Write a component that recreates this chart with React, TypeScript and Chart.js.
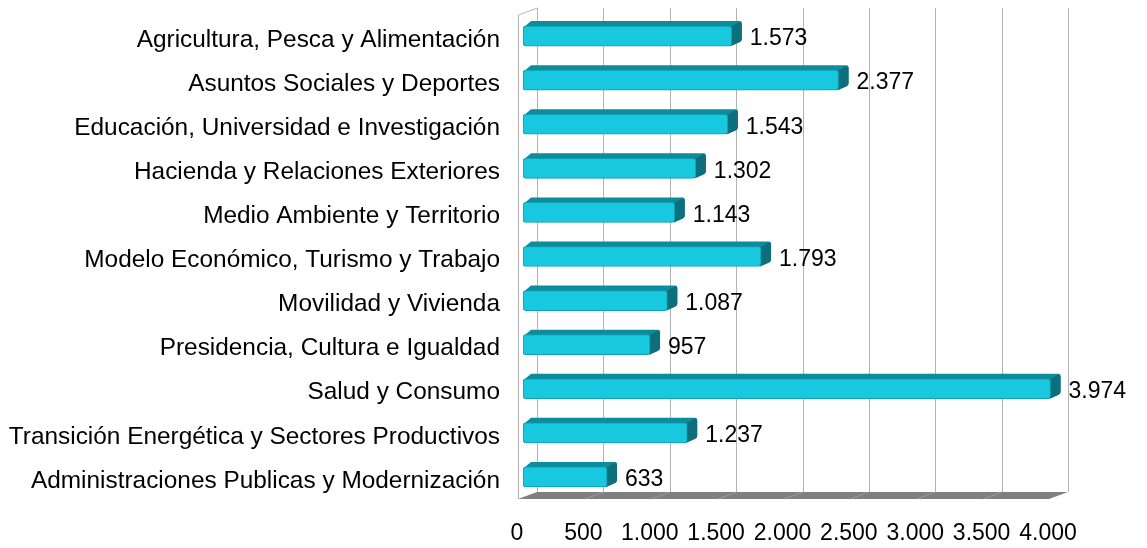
import React, { useEffect, useRef } from "react";
import { Chart, registerables } from "chart.js";

Chart.register(...registerables);

const categories = [
  "Agricultura, Pesca y Alimentación",
  "Asuntos Sociales y Deportes",
  "Educación, Universidad e Investigación",
  "Hacienda y Relaciones Exteriores",
  "Medio Ambiente y Territorio",
  "Modelo Económico, Turismo y Trabajo",
  "Movilidad y Vivienda",
  "Presidencia, Cultura e Igualdad",
  "Salud y Consumo",
  "Transición Energética y Sectores Productivos",
  "Administraciones Publicas y Modernización",
];

const values = [1573, 2377, 1543, 1302, 1143, 1793, 1087, 957, 3974, 1237, 633];

const xTickValues = [0, 500, 1000, 1500, 2000, 2500, 3000, 3500, 4000];

const FONT = "'Liberation Sans', Arial, sans-serif";
const FONT_SIZE = 23;
const CAT_FONT_SIZE = 24.4;

const fmt = (n: number) =>
  String(Math.round(n)).replace(/\B(?=(\d{3})+(?!\d))/g, ".");

// 3D geometry (pixel offsets for depth effect)
const BAR_DX = 10;
const BAR_DY = 5;
const BACK_DX = 14;
const BACK_DY = 7;
const FRONT_DX = -5;

const COLORS = {
  front: "#17c8df",
  frontBorder: "#0f9fb2",
  top: "#0f8c9c",
  side: "#0c6f7b",
  grid: "#b3b3b3",
  floor: "#7f7f7f",
  floorLine: "#9a9a9a",
};

const threeD = {
  id: "threeD",
  beforeDatasetsDraw(chart: any) {
    const { ctx, chartArea: a } = chart;
    const x = chart.scales.x;
    ctx.save();

    const x0 = x.getPixelForValue(xTickValues[0]);
    const xN = x.getPixelForValue(xTickValues[xTickValues.length - 1]);

    // floor
    ctx.fillStyle = COLORS.floor;
    ctx.beginPath();
    ctx.moveTo(x0 + FRONT_DX, a.bottom);
    ctx.lineTo(xN + FRONT_DX, a.bottom);
    ctx.lineTo(xN + BACK_DX, a.bottom - BACK_DY);
    ctx.lineTo(x0 + BACK_DX, a.bottom - BACK_DY);
    ctx.closePath();
    ctx.fill();

    // floor grid lines
    ctx.strokeStyle = COLORS.floorLine;
    ctx.lineWidth = 1;
    for (const v of xTickValues.slice(1, -1)) {
      const px = x.getPixelForValue(v);
      ctx.beginPath();
      ctx.moveTo(px + FRONT_DX + 0.5, a.bottom);
      ctx.lineTo(px + BACK_DX + 0.5, a.bottom - BACK_DY);
      ctx.stroke();
    }

    // back wall grid lines
    ctx.strokeStyle = COLORS.grid;
    for (const v of xTickValues) {
      const px = Math.round(x.getPixelForValue(v) + BACK_DX) + 0.5;
      ctx.beginPath();
      ctx.moveTo(px, a.top - BACK_DY + 1);
      ctx.lineTo(px, a.bottom - BACK_DY);
      ctx.stroke();
    }

    // left wall
    const lx = Math.round(x0 + FRONT_DX) + 0.5;
    ctx.beginPath();
    ctx.moveTo(lx, a.bottom);
    ctx.lineTo(lx, a.top + 1);
    ctx.lineTo(Math.round(x0 + BACK_DX) + 0.5, a.top - BACK_DY + 1);
    ctx.stroke();

    // bar top and side faces
    const meta = chart.getDatasetMeta(0);
    meta.data.forEach((bar: any) => {
      const p = bar.getProps(["x", "y", "base", "height"], true);
      const left = p.base;
      const right = p.x;
      const top = p.y - p.height / 2;
      const bottom = p.y + p.height / 2;
      // top face
      ctx.fillStyle = COLORS.top;
      ctx.beginPath();
      ctx.moveTo(left + 1, top + 1);
      ctx.lineTo(left + BAR_DX - 2, top - BAR_DY);
      ctx.lineTo(right + BAR_DX - 2, top - BAR_DY);
      ctx.quadraticCurveTo(right + BAR_DX, top - BAR_DY, right + BAR_DX, top - BAR_DY + 2);
      ctx.lineTo(right + BAR_DX, bottom - BAR_DY - 2);
      ctx.quadraticCurveTo(right + BAR_DX, bottom - BAR_DY, right + BAR_DX - 2, bottom - BAR_DY + 1);
      ctx.lineTo(right - 1, bottom);
      ctx.lineTo(right - 1, top + 1);
      ctx.closePath();
      ctx.fill();
      // side face (darker)
      ctx.fillStyle = COLORS.side;
      ctx.beginPath();
      ctx.moveTo(right - 1, top + 1);
      ctx.lineTo(right + BAR_DX - 3, top - BAR_DY + 1);
      ctx.quadraticCurveTo(right + BAR_DX, top - BAR_DY + 1, right + BAR_DX, top - BAR_DY + 3);
      ctx.lineTo(right + BAR_DX, bottom - BAR_DY - 2);
      ctx.quadraticCurveTo(right + BAR_DX, bottom - BAR_DY, right + BAR_DX - 2, bottom - BAR_DY + 1);
      ctx.lineTo(right - 1, bottom);
      ctx.closePath();
      ctx.fill();
    });

    ctx.restore();
  },
  afterDatasetsDraw(chart: any) {
    const { ctx } = chart;
    const meta = chart.getDatasetMeta(0);
    ctx.save();
    ctx.font = `${FONT_SIZE}px ${FONT}`;
    ctx.fillStyle = "#000000";
    ctx.textAlign = "left";
    ctx.textBaseline = "middle";
    meta.data.forEach((bar: any, i: number) => {
      const p = bar.getProps(["x", "y"], true);
      ctx.fillText(fmt(values[i]), p.x + BAR_DX + 8, p.y + 3);
    });
    ctx.restore();
  },
};

export default function App() {
  const ref = useRef<HTMLCanvasElement | null>(null);

  useEffect(() => {
    document.body.style.margin = "0";
    const canvas = ref.current;
    if (!canvas) return;
    const chart = new Chart(canvas, {
      type: "bar",
      data: {
        labels: categories,
        datasets: [
          {
            data: values,
            backgroundColor: COLORS.front,
            borderColor: COLORS.frontBorder,
            borderWidth: 1,
            borderRadius: 3,
            borderSkipped: false,
            barThickness: 20,
          },
        ],
      },
      options: {
        indexAxis: "y",
        responsive: false,
        animation: false,
        devicePixelRatio: 1,
        layout: { padding: { left: 0, top: 14, right: 93, bottom: 0 } },
        plugins: {
          legend: { display: false },
          tooltip: { enabled: false },
          title: { display: false },
        },
        scales: {
          x: {
            type: "linear",
            min: 0,
            max: 4000,
            afterFit: (s: any) => {
              s.height = 49;
              s.paddingLeft = 0;
              s.paddingRight = 0;
            },
            afterBuildTicks: (s: any) => {
              s.ticks = xTickValues.map((v) => ({ value: v }));
            },
            grid: { display: false, drawTicks: false },
            border: { display: false },
            ticks: {
              padding: 21,
              labelOffset: -6,
              maxRotation: 0,
              autoSkip: false,
              color: "#000000",
              font: { family: FONT, size: FONT_SIZE },
              callback: (v: any) => fmt(Number(v)),
            },
          },
          y: {
            afterFit: (s: any) => {
              s.width = 523;
              s.paddingTop = 0;
              s.paddingBottom = 0;
            },
            grid: { display: false, drawTicks: false },
            border: { display: false },
            ticks: {
              padding: 23,
              labelOffset: 4,
              autoSkip: false,
              color: "#000000",
              font: { family: FONT, size: CAT_FONT_SIZE },
            },
          },
        },
      },
      plugins: [threeD],
    });
    return () => chart.destroy();
  }, []);

  return (
    <div style={{ width: 1147, height: 548, background: "#ffffff" }}>
      <canvas ref={ref} width={1147} height={548} />
    </div>
  );
}
